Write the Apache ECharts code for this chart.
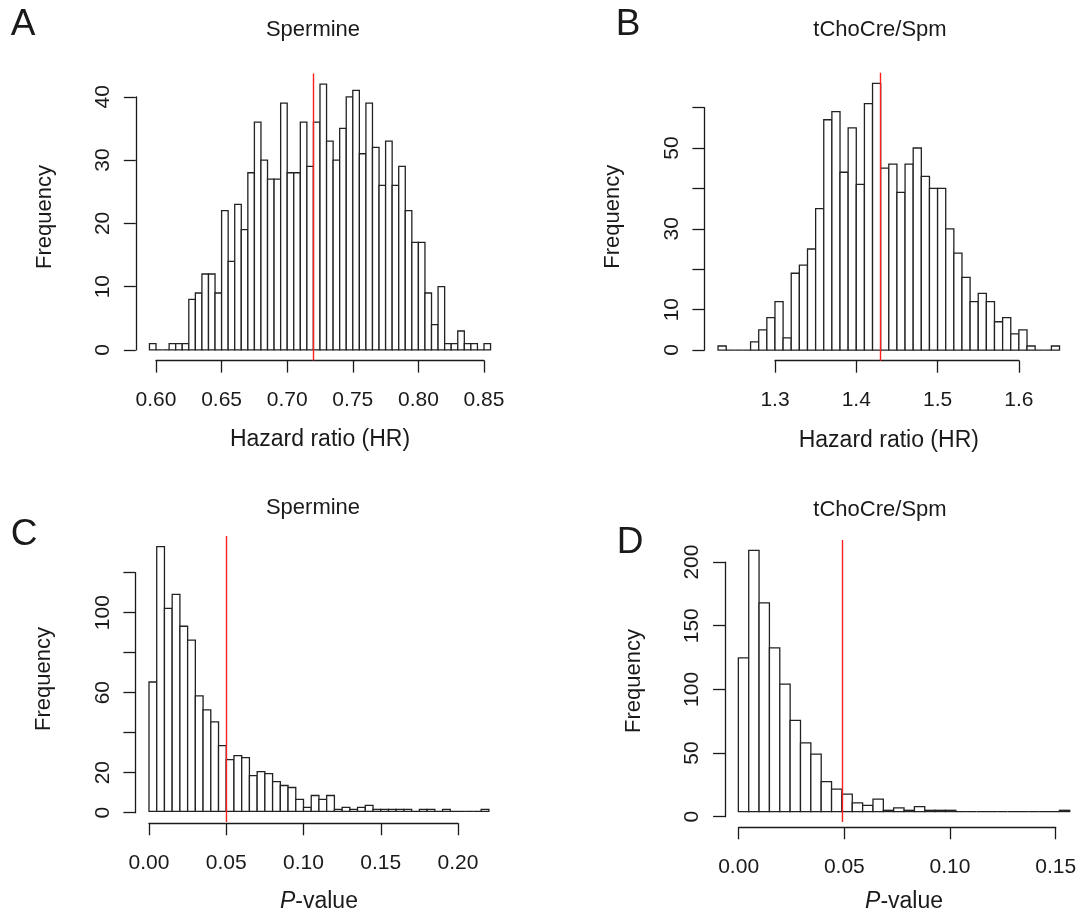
<!DOCTYPE html>
<html><head><meta charset="utf-8">
<script src="https://cdn.jsdelivr.net/npm/echarts@6/dist/echarts.min.js"></script>
<style>html,body{margin:0;padding:0;background:#fff}#c{width:1083px;height:914px}</style>
</head><body><div id="c"></div>
<script>
// ---------- DATA ----------
// Panel A: Spermine, hazard ratio histogram (bins of 0.005 starting at 0.595)
const hrSpmStart = 0.595, hrSpmBin = 0.005;
const hrSpmCounts = [1,0,0,1,1,1,8,9,12,12, 9,22,14,23,19,28,36,30,27,27, 39,28,28,36,29,36,42,33,30,35, 40,41,31,39,32,26,33,26,29,22, 17,17,9,4,10,1,1,3,1,1, 0,1];
const hrSpmRef = 0.72;
const hrSpmXTicks = [0.60,0.65,0.70,0.75,0.80,0.85];
const hrSpmYTicks = [0,10,20,30,40];
const hrSpmYLabels = ['0','10','20','30','40'];

// Panel B: tChoCre/Spm, hazard ratio histogram (bins of 0.01 starting at 1.23)
const hrRatioStart = 1.23, hrRatioBin = 0.01;
const hrRatioCounts = [1,0,0,0,2,5,8,12,3,19, 21,25,35,57,59,44,55,41,61,66, 45,46,39,46,50,43,40,40,30,24, 18,12,14,12,7,8,4,5,1,0, 0,1];
const hrRatioRef = 1.43;
const hrRatioXTicks = [1.3,1.4,1.5,1.6];
const hrRatioYTicks = [0,10,20,30,40,50,60];
const hrRatioYLabels = ['0','10','','30','','50',''];

// Panel C: Spermine, P-value histogram (bins of 0.005 starting at 0)
const pSpmStart = 0, pSpmBin = 0.005;
const pSpmCounts = [65,133,102,109,93,86,58,51,45,33, 26,28,27,18,20,19,15,13,12,6, 2,8,6,8,1,2,1,2,3,1, 1,1,1,1,0,1,1,0,1,0, 0,0,0,1];
const pSpmRef = 0.05;
const pSpmXTicks = [0.00,0.05,0.10,0.15,0.20];
const pSpmYTicks = [0,20,40,60,80,100,120];
const pSpmYLabels = ['0','20','','60','','100',''];

// Panel D: tChoCre/Spm, P-value histogram (bins of 0.005 starting at 0)
const pRatioStart = 0, pRatioBin = 0.005;
const pRatioCounts = [123,209,167,131,102,73,55,46,24,18, 14,7,5,10,1,3,1,4,1,1, 1,0,0,0,0,0,0,0,0,0, 0,1];
const pRatioRef = 0.05;
const pRatioXTicks = [0.00,0.05,0.10,0.15];
const pRatioYTicks = [0,50,100,150,200];
const pRatioYLabels = ['0','50','100','150','200'];

const titles = ['Spermine','tChoCre/Spm','Spermine','tChoCre/Spm'];
const letters = ['A','B','C','D'];
const xNames = ['Hazard ratio (HR)','Hazard ratio (HR)','{i|P}-value','{i|P}-value'];
const yName = 'Frequency';

// ---------- LAYOUT ----------
const FONT = 'Liberation Sans, Arial, Helvetica, sans-serif';
const INK = '#1a1a1a';
const panels = [
  {start:hrSpmStart, bin:hrSpmBin, counts:hrSpmCounts, ref:hrSpmRef, xt:hrSpmXTicks, xd:2, yt:hrSpmYTicks, yl:hrSpmYLabels,
   box:{l:135.8,r:504.2,t:73.5,b:360.6}, title:[313,30], letter:[23,25]},
  {start:hrRatioStart, bin:hrRatioBin, counts:hrRatioCounts, ref:hrRatioRef, xt:hrRatioXTicks, xd:1, yt:hrRatioYTicks, yl:hrRatioYLabels,
   box:{l:704.4,r:1073.2,t:72.7,b:360.7}, title:[880,30], letter:[628,25]},
  {start:pSpmStart, bin:pSpmBin, counts:pSpmCounts, ref:pSpmRef, xt:pSpmXTicks, xd:2, yt:pSpmYTicks, yl:pSpmYLabels,
   box:{l:135.4,r:502.5,t:536,b:823.3}, title:[313,508], letter:[24,535]},
  {start:pRatioStart, bin:pRatioBin, counts:pRatioCounts, ref:pRatioRef, xt:pRatioXTicks, xd:2, yt:pRatioYTicks, yl:pRatioYLabels,
   box:{l:725.1,r:1090.4,t:540,b:827.3}, title:[880,510], letter:[630,543]}
];

const grid = [], xAxis = [], yAxis = [], series = [], graphic = [];

panels.forEach((p, i) => {
  const n = p.counts.length;
  const b0 = p.start, b1 = p.start + n * p.bin;
  const maxC = Math.max(...p.counts);
  const xlim = [b0 - 0.04 * (b1 - b0), b1 + 0.04 * (b1 - b0)];
  const ylim = [-0.04 * maxC, maxC * 1.04];
  const B = p.box, W = B.r - B.l, H = B.b - B.t;
  const px = v => B.l + (v - xlim[0]) / (xlim[1] - xlim[0]) * W;
  const py = v => B.b - (v - ylim[0]) / (ylim[1] - ylim[0]) * H;
  const xt0 = p.xt[0], xt1 = p.xt[p.xt.length - 1];
  const yt0 = p.yt[0], yt1 = p.yt[p.yt.length - 1];
  const g = grid.length;
  grid.push({left:B.l, top:B.t, width:W, height:H});
  grid.push({left:px(xt0), top:B.b - 1, width:px(xt1) - px(xt0), height:1});
  grid.push({left:B.l, top:py(yt1), width:1, height:py(yt0) - py(yt1)});

  xAxis.push({gridIndex:g, type:'value', min:xlim[0], max:xlim[1], show:true,
    axisLine:{show:false}, axisTick:{show:false}, axisLabel:{show:false}, splitLine:{show:false},
    name:xNames[i], nameLocation:'middle', nameGap:68,
    nameTextStyle:{fontFamily:FONT, fontSize:23, color:INK, rich:{i:{fontStyle:'italic', fontFamily:FONT, fontSize:23, color:INK}}}});
  yAxis.push({gridIndex:g, type:'value', min:ylim[0], max:ylim[1], show:true,
    axisLine:{show:false}, axisTick:{show:false}, axisLabel:{show:false}, splitLine:{show:false},
    name:yName, nameLocation:'middle', nameGap:80, nameRotate:90,
    nameTextStyle:{fontFamily:FONT, fontSize:22, color:INK}});

  const step = p.xt[1] - p.xt[0];
  xAxis.push({gridIndex:g + 1, type:'value', position:'bottom', min:xt0, max:xt1, interval:step,
    axisLine:{show:true, lineStyle:{color:INK, width:1.3}},
    axisTick:{show:true, length:12, inside:false, lineStyle:{color:INK, width:1.3}},
    axisLabel:{show:true, margin:29, fontFamily:FONT, fontSize:21, color:INK,
      formatter: v => v.toFixed(p.xd), showMinLabel:true, showMaxLabel:true},
    splitLine:{show:false}});
  yAxis.push({gridIndex:g + 1, type:'value', show:false, min:0, max:1});

  xAxis.push({gridIndex:g + 2, type:'value', show:false, min:0, max:1});
  const ystep = p.yt[1] - p.yt[0];
  yAxis.push({gridIndex:g + 2, type:'value', position:'left', min:yt0, max:yt1, interval:ystep,
    axisLine:{show:true, lineStyle:{color:INK, width:1.3}},
    axisTick:{show:true, length:12, inside:false, lineStyle:{color:INK, width:1.3}},
    axisLabel:{show:true, margin:22, rotate:90, fontFamily:FONT, fontSize:21, color:INK,
      formatter: v => { const k = p.yt.indexOf(v); return k >= 0 ? p.yl[k] : ''; },
      showMinLabel:true, showMaxLabel:true},
    splitLine:{show:false}});

  const data = p.counts.map((c, k) => [b0 + k * p.bin, b0 + (k + 1) * p.bin, c]);
  series.push({
    type:'custom', xAxisIndex:g, yAxisIndex:g, data:data, encode:{x:[0,1], y:2}, clip:false,
    renderItem:(params, api) => {
      const s = api.coord([api.value(0), 0]);
      const e = api.coord([api.value(1), api.value(2)]);
      return {type:'rect', shape:{x:s[0], y:e[1], width:e[0] - s[0], height:s[1] - e[1]},
        style:{fill:'#ffffff', stroke:'#222222', lineWidth:1.3}};
    },
    markLine:{silent:true, symbol:['none','none'], label:{show:false}, animation:false,
      lineStyle:{color:'#ff1f1f', type:'solid', width:1.4}, data:[{xAxis:p.ref}]},
    z:2
  });

  graphic.push({type:'text', x:p.title[0], y:p.title[1],
    style:{text:titles[i], fontFamily:FONT, fontSize:22, fill:INK, textAlign:'center', textVerticalAlign:'middle'}});
  graphic.push({type:'text', x:p.letter[0], y:p.letter[1],
    style:{text:letters[i], fontFamily:FONT, fontSize:37, fill:INK, textAlign:'center', textVerticalAlign:'middle'}});
});

const chart = echarts.init(document.getElementById('c'), null, {renderer:'canvas'});
chart.setOption({animation:false, backgroundColor:'#ffffff', grid, xAxis, yAxis, series, graphic});
</script></body></html>
